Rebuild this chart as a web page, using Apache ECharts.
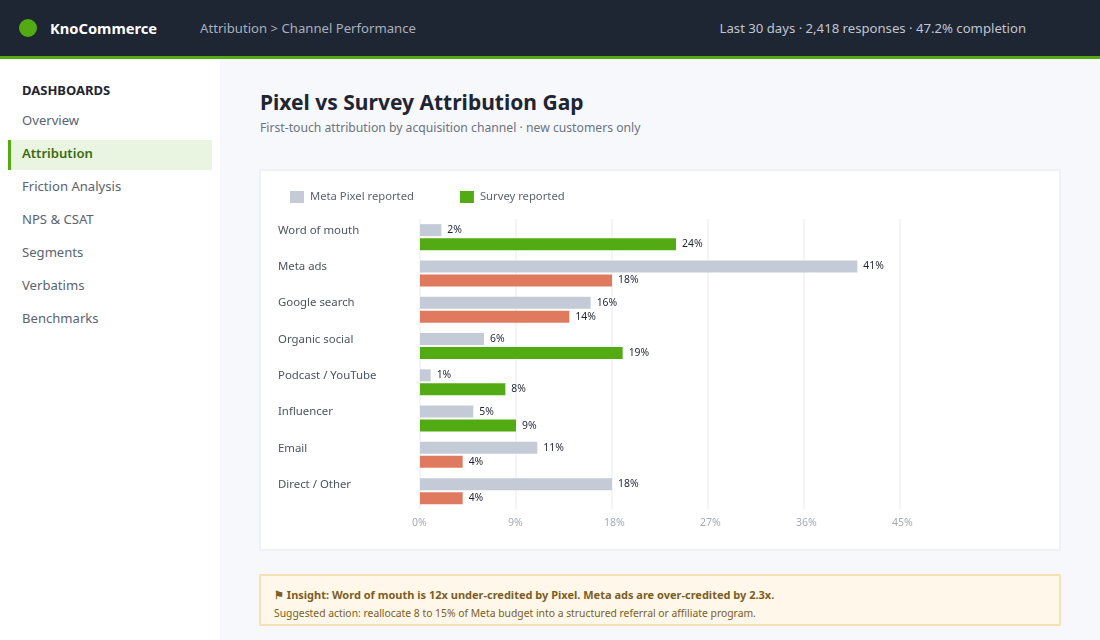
<!DOCTYPE html>
<html>
<head>
<meta charset="utf-8">
<title>Pixel vs Survey Attribution Gap</title>
<script src="https://cdn.jsdelivr.net/npm/echarts@6/dist/echarts.min.js"></script>
<style>
  * { box-sizing: border-box; }
  html, body { margin: 0; padding: 0; }
  body { width: 1100px; height: 640px; overflow: hidden; position: relative; background: #f7f8fc; font-family: "Noto Sans", sans-serif; color: #1f2533; }
  .abs { position: absolute; white-space: nowrap; }
  #top { left: 0; top: 0; width: 1100px; height: 59px; background: #1e2533; border-bottom: 3px solid #52ab13; }
  #dot { left: 19px; top: 19px; width: 18px; height: 18px; border-radius: 50%; background: #52ab13; }
  #brand { left: 50px; top: 17px; font-size: 14.7px; line-height: 22px; font-weight: 700; color: #fff; }
  #crumb { left: 200px; top: 18px; font-size: 13.15px; line-height: 20px; color: #a9b0bd; }
  #meta { right: 74px; top: 18px; font-size: 13.15px; line-height: 20px; color: #c0c6d0; }
  #side { left: 0; top: 59px; width: 220px; height: 581px; background: #fff; }
  #side-title { left: 22px; top: 81px; font-size: 13px; line-height: 18px; font-weight: 700; color: #1f2533; }
  .nav { left: 22px; font-size: 13.1px; line-height: 20px; color: #5b6472; }
  #active { left: 8px; top: 140px; width: 204px; height: 30px; background: #e9f5e0; border-left: 3px solid #52ab13; }
  #head { left: 260px; top: 88px; font-size: 21px; line-height: 29px; font-weight: 700; color: #1f2533; }
  #sub { left: 260px; top: 119px; font-size: 12.2px; line-height: 18px; color: #6b7280; }
  #card { left: 259px; top: 169px; width: 802px; height: 382px; background: #fff; border: 2px solid #eef1f6; }
  #chart { left: 260px; top: 170px; width: 800px; height: 380px; }
  #note { left: 259px; top: 574px; width: 802px; height: 52px; background: #fff7ea; border: 2px solid #f6e0b5; }
  #note1 { left: 274px; top: 586px; font-size: 11px; line-height: 18px; font-weight: 700; color: #7d5e1e; }
  #note2 { left: 274px; top: 605px; font-size: 10.35px; line-height: 16px; color: #7d5e1e; }
</style>
</head>
<body>
<div class="abs" id="top"></div>
<div class="abs" id="dot"></div>
<div class="abs" id="brand">KnoCommerce</div>
<div class="abs" id="crumb">Attribution &gt; Channel Performance</div>
<div class="abs" id="meta">Last 30 days · 2,418 responses · 47.2% completion</div>
<div class="abs" id="side"></div>
<div class="abs" id="side-title">DASHBOARDS</div>
<div class="abs" id="active"></div>
<div class="abs nav" style="top:110px">Overview</div>
<div class="abs nav" style="top:143px;color:#3a6b12;font-weight:600">Attribution</div>
<div class="abs nav" style="top:176px">Friction Analysis</div>
<div class="abs nav" style="top:209px">NPS &amp; CSAT</div>
<div class="abs nav" style="top:242px">Segments</div>
<div class="abs nav" style="top:275px">Verbatims</div>
<div class="abs nav" style="top:308px">Benchmarks</div>
<div class="abs" id="head">Pixel vs Survey Attribution Gap</div>
<div class="abs" id="sub">First-touch attribution by acquisition channel · new customers only</div>
<div class="abs" id="card"></div>
<div class="abs" id="chart"></div>
<div class="abs" id="note"></div>
<div class="abs" id="note1">⚑ Insight: Word of mouth is 12x under-credited by Pixel. Meta ads are over-credited by 2.3x.</div>
<div class="abs" id="note2">Suggested action: reallocate 8 to 15% of Meta budget into a structured referral or affiliate program.</div>

<script>
const channels = ['Word of mouth', 'Meta ads', 'Google search', 'Organic social', 'Podcast / YouTube', 'Influencer', 'Email', 'Direct / Other'];
const pixelValues = [2, 41, 16, 6, 1, 5, 11, 18];
const surveyValues = [24, 18, 14, 19, 8, 9, 4, 4];

const GREY = '#c5cbd6';
const GREEN = '#52ab13';
const CORAL = '#e07a5f';

const chart = echarts.init(document.getElementById('chart'));

const valueLabel = {
  show: true,
  position: 'right',
  distance: 6,
  formatter: '{c}%',
  fontFamily: 'Noto Sans',
  fontSize: 10.4,
  color: '#1f2533'
};

chart.setOption({
  animation: false,
  textStyle: { fontFamily: 'Noto Sans' },
  legend: {
    left: 30,
    top: 21,
    padding: 0,
    itemWidth: 14,
    itemHeight: 12,
    itemGap: 46,
    icon: 'rect',
    selectedMode: false,
    textStyle: { fontSize: 11.25, color: '#5b6472', padding: [2, 0, 0, 1] },
    data: ['Meta Pixel reported', 'Survey reported']
  },
  grid: { left: 160, top: 49, width: 480, height: 290.3, containLabel: false },
  xAxis: {
    type: 'value',
    min: 0,
    max: 45,
    interval: 9,
    axisLine: { show: false },
    axisTick: { show: false },
    axisLabel: {
      // tick text starts just left of the gridline rather than centring on it
      formatter: '{t|{value}%}',
      margin: 8,
      rich: { t: { width: 16, align: 'left', fontSize: 10.5, color: '#a4abb8' } }
    },
    splitLine: { lineStyle: { color: '#f4f5f8', width: 2 } }
  },
  yAxis: {
    type: 'category',
    inverse: true,
    data: channels,
    axisLine: { show: false },
    axisTick: { show: false },
    axisLabel: {
      align: 'left',
      verticalAlign: 'bottom',
      lineHeight: 13,
      margin: 142,
      fontSize: 11.4,
      color: '#4b5563'
    }
  },
  series: [
    {
      name: 'Meta Pixel reported',
      type: 'bar',
      barWidth: 12,
      barGap: '16.7%',
      itemStyle: { color: GREY },
      label: valueLabel,
      data: pixelValues
    },
    {
      name: 'Survey reported',
      type: 'bar',
      barWidth: 12,
      itemStyle: { color: GREEN },
      label: valueLabel,
      // survey bars turn coral when the pixel over-credits the channel
      data: surveyValues.map((v, i) => ({
        value: v,
        itemStyle: { color: v < pixelValues[i] ? CORAL : GREEN }
      }))
    }
  ]
});
</script>
</body>
</html>
